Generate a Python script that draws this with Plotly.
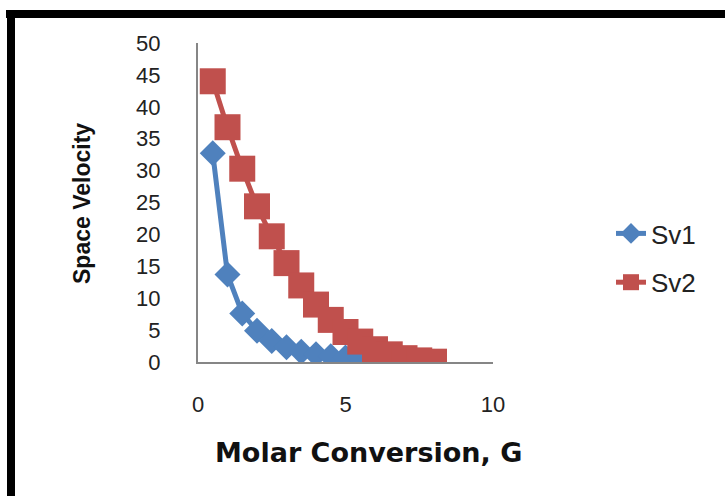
import plotly.graph_objects as go

# ---- data ----
x_vals = [0.5, 1.0, 1.5, 2.0, 2.5, 3.0, 3.5, 4.0, 4.5, 5.0, 5.5, 6.0, 6.5, 7.0, 7.5, 8.0]
sv1 = [32.7, 13.7, 7.6, 4.9, 3.3, 2.3, 1.6, 1.2, 0.9, 0.7, 0.5, 0.35, 0.25, 0.15, 0.1, 0.05]
sv2 = [44.0, 36.8, 30.3, 24.4, 19.7, 15.5, 12.0, 9.0, 6.6, 4.7, 3.2, 2.0, 1.2, 0.6, 0.25, 0.05]
x_ticks = [0, 5, 10]
y_ticks = [0, 5, 10, 15, 20, 25, 30, 35, 40, 45, 50]

W, H = 725, 496
L, R, T, B = 198, 232, 43, 134
PW, PH = W - L - R, H - T - B

def px(p):
    return (p - L) / PW

def py(p):
    return (H - B - p) / PH

BLUE = "#4F81BD"
RED = "#C0504D"

fig = go.Figure()
fig.add_trace(go.Scatter(
    x=x_vals, y=sv1, name="Sv1", mode="lines+markers",
    line=dict(color=BLUE, width=5),
    marker=dict(symbol="diamond", size=20, color=BLUE),
    legendgroup="a",
))
fig.add_trace(go.Scatter(
    x=x_vals, y=sv2, name="Sv2", mode="lines+markers",
    line=dict(color=RED, width=5),
    marker=dict(symbol="square", size=26, color=RED),
    legendgroup="b",
))

axis_font = dict(family="Liberation Sans", size=22, color="#222222")
fig.update_xaxes(
    range=[0, 10], tickvals=x_ticks, showgrid=False, zeroline=False,
    showline=True, linecolor="#868686", linewidth=2,
    ticks="", tickfont=axis_font, ticklabelstandoff=22,
)
fig.update_yaxes(
    range=[0, 50], tickvals=y_ticks, showgrid=False, zeroline=False,
    showline=True, linecolor="#868686", linewidth=2,
    ticks="", tickfont=axis_font, ticklabelstandoff=31,
)

fig.add_annotation(
    text="<b>Molar Conversion, G</b>", xref="paper", yref="paper",
    x=px(368), y=py(452), showarrow=False, xanchor="center", yanchor="middle",
    font=dict(family="DejaVu Sans", size=27, color="#111111"),
)
fig.add_annotation(
    text="<b>Space Velocity</b>", xref="paper", yref="paper",
    x=px(82), y=py(204), showarrow=False, xanchor="center", yanchor="middle",
    textangle=-90,
    font=dict(family="Liberation Sans", size=23, color="#111111"),
)

# black frame (top and left)
fig.add_shape(type="rect", xref="paper", yref="paper",
              x0=px(6), x1=px(W + 5), y0=py(18), y1=py(10),
              fillcolor="black", line=dict(width=0), layer="above")
fig.add_shape(type="rect", xref="paper", yref="paper",
              x0=px(7), x1=px(15), y0=py(H + 5), y1=py(10),
              fillcolor="black", line=dict(width=0), layer="above")

fig.update_layout(
    width=W, height=H,
    margin=dict(l=L, r=R, t=T, b=B),
    paper_bgcolor="white", plot_bgcolor="white",
    showlegend=True,
    legend=dict(
        x=px(611), y=py(258), xanchor="left", yanchor="middle",
        font=dict(family="Liberation Sans", size=26, color="#222222"),
        tracegroupgap=12, bgcolor="rgba(0,0,0,0)",
    ),
)

fig.write_html("out.html")
